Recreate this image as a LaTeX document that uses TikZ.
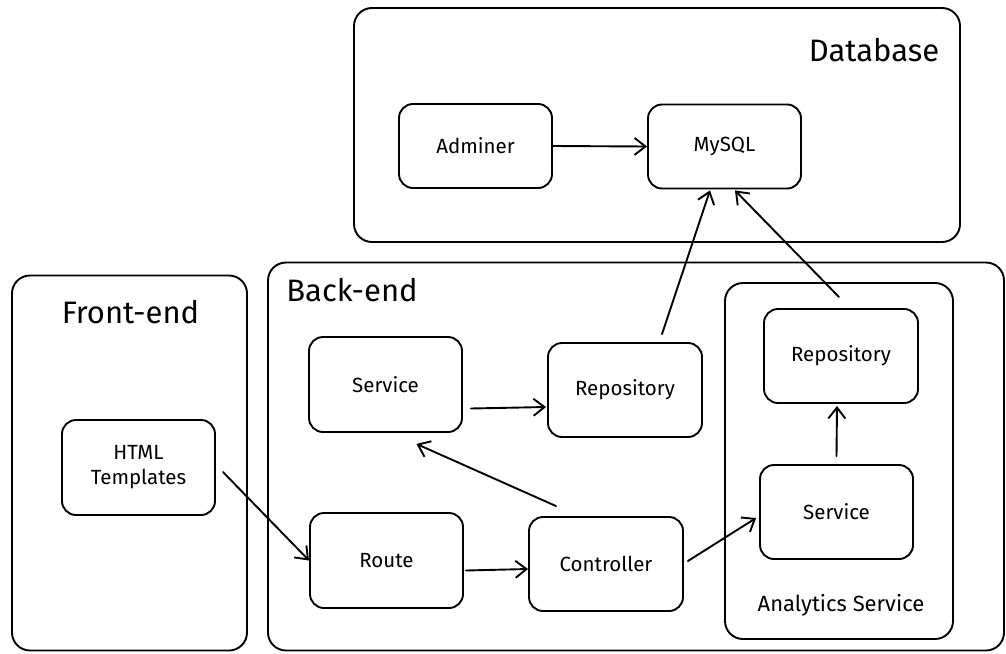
\documentclass[tikz,border=0pt]{standalone}
\usepackage{fontspec}
\setmainfont{Fira Sans}
\usetikzlibrary{arrows.meta}
\begin{document}
\begin{tikzpicture}[x=1pt,y=-1pt,
  container/.style={draw, line width=1.9pt, rounded corners=18pt, inner sep=0pt},
  box/.style={draw, line width=1.9pt, rounded corners=14pt, inner sep=0pt, align=center,
    font=\fontsize{20.5}{25}\selectfont},
  title/.style={font=\fontsize{31}{36}\selectfont, inner sep=0pt},
  subtitle/.style={font=\fontsize{22}{26}\selectfont, inner sep=0pt},
  arr/.style={-{Straight Barb[length=11pt,width=17pt,line width=1.9pt]}, line width=1.9pt, line cap=round}]
\useasboundingbox (0,0) rectangle (1006,653);
% containers
\node[container, minimum width=606pt, minimum height=234pt] (database) at (657,125) {};
\node[container, minimum width=235pt, minimum height=375pt] (frontend) at (129.5,463) {};
\node[container, minimum width=736pt, minimum height=388pt] (backend) at (636,456.5) {};
\node[container, minimum width=228pt, minimum height=356pt] (analytics) at (839,461) {};
% container labels
\node[title] (dblabel) at (874,50) {Database};
\node[title] (felabel) at (130.5,312) {Front-end};
\node[title] (belabel) at (352,290) {Back-end};
\node[subtitle] (anlabel) at (841,605) {Analytics Service};
% boxes
\node[box, minimum width=153pt, minimum height=84pt] (adminer) at (475.5,146) {Adminer};
\node[box, minimum width=153pt, minimum height=84pt] (mysql) at (724.5,146.5) {MySQL};
\node[box, minimum width=153pt, minimum height=95pt] (html) at (138.5,467.5) {HTML\\Templates};
\node[box, minimum width=153pt, minimum height=95pt] (svc) at (385.5,384.5) {Service};
\node[box, minimum width=153pt, minimum height=95pt] (route) at (386.5,560.5) {Route};
\node[box, minimum width=154pt, minimum height=94pt] (repo) at (625,390) {Repository};
\node[box, minimum width=154pt, minimum height=94pt] (ctrl) at (606,564) {Controller};
\node[box, minimum width=154pt, minimum height=94pt] (arepo) at (841,356) {Repository};
\node[box, minimum width=153pt, minimum height=94pt] (asvc) at (836.5,512) {Service};
% connectors
\draw[arr] (adminer.east) -- (mysql.west);
\draw[arr] ([shift={(7,4.5)}]html.east) -- (route.west);
\draw[arr] ([shift={(8,24)}]svc.east) -- ([shift={(-1,17)}]repo.west);
\draw[arr] ([shift={(2,10)}]route.east) -- ([shift={(0,5)}]ctrl.west);
\draw[arr] ([shift={(-50,-10)}]ctrl.north) -- ([shift={(31,11)}]svc.south);
\draw[arr] ([shift={(4,-3)}]ctrl.east) -- ([shift={(-3,6)}]asvc.west);
\draw[arr] ([shift={(0,-8)}]asvc.north) -- ([shift={(-4,2)}]arepo.south);
\draw[arr] ([shift={(37,-8)}]repo.north) -- ([shift={(-14.5,1)}]mysql.south);
\draw[arr] ([shift={(-2,-11)}]arepo.north) -- ([shift={(10.5,1)}]mysql.south);
\end{tikzpicture}
\end{document}
